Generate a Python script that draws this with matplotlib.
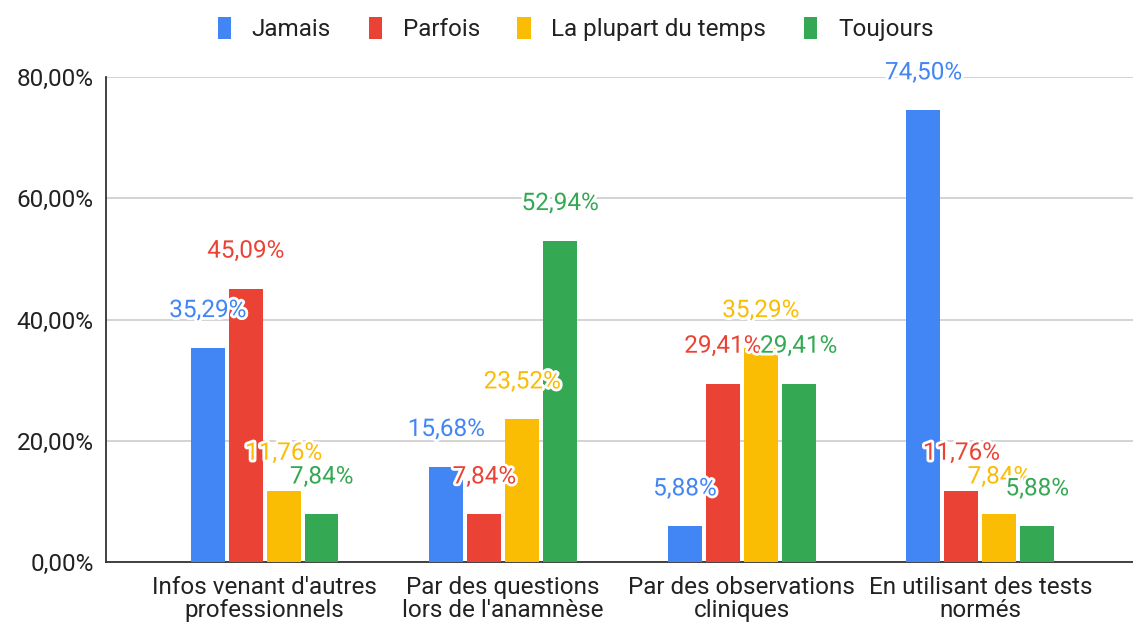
import matplotlib.pyplot as plt
import matplotlib.patheffects as pe
import numpy as np

plt.rcParams['font.family'] = ['Roboto', 'DejaVu Sans']

categories = ["Infos venant d'autres\nprofessionnels",
              "Par des questions\nlors de l'anamnèse",
              "Par des observations\ncliniques",
              "En utilisant des tests\nnormés"]
series = ['Jamais', 'Parfois', 'La plupart du temps', 'Toujours']
values = {
    'Jamais': [35.29, 15.68, 5.88, 74.50],
    'Parfois': [45.09, 7.84, 29.41, 11.76],
    'La plupart du temps': [11.76, 23.52, 35.29, 7.84],
    'Toujours': [7.84, 52.94, 29.41, 5.88],
}
colors = ['#4285F4', '#EA4335', '#FBBC04', '#34A853']
yticks = [0, 20, 40, 60, 80]

fig = plt.figure(figsize=(11.33, 6.22), dpi=100)
ax = fig.add_axes([106 / 1133, 1 - 562 / 622, 1 - 106 / 1133, (562 - 77) / 622])

x = np.arange(len(categories))
pitch = 0.159
width = 0.142
fs = 17.5
halo = [pe.withStroke(linewidth=4, foreground='white')]

for i, (name, col) in enumerate(zip(series, colors)):
    offs = (i - 1.5) * pitch
    vals = values[name]
    ax.bar(x + offs, vals, width=width, color=col, label=name, zorder=3)
    for xi, v in zip(x + offs, vals):
        lbl = f'{v:.2f}%'.replace('.', ',')
        ax.annotate(lbl, (xi, v), xytext=(0, 27), textcoords='offset points',
                    ha='center', va='center', color=col, fontsize=fs,
                    path_effects=halo, zorder=5, annotation_clip=False)

ax.set_xlim(-0.665, 3.64)
ax.set_ylim(0, 80)
ax.set_yticks(yticks)
ax.set_yticklabels([f'{t:.2f}%'.replace('.', ',') for t in yticks])
ax.set_xticks(x)
ax.set_xticklabels(categories, linespacing=1.0)
ax.tick_params(axis='both', length=0, labelsize=fs, labelcolor='#222222')
ax.tick_params(axis='x', pad=10)
ax.tick_params(axis='y', pad=9)
ax.yaxis.grid(True, color='#cccccc', linewidth=1.2, zorder=0)
ax.set_axisbelow(True)
for s in ['top', 'right']:
    ax.spines[s].set_visible(False)
ax.spines['left'].set_color('#333333')
ax.spines['bottom'].set_color('#333333')
ax.spines['left'].set_linewidth(1.3)
ax.spines['bottom'].set_linewidth(1.3)

leg = fig.legend(loc='upper center', bbox_to_anchor=(0.508, 1.008), ncol=4,
                 frameon=False, fontsize=fs, handlelength=0.55, handleheight=1.0,
                 handletextpad=0.85, columnspacing=1.55, labelcolor='#222222')

fig.savefig('out.png', dpi=100)
